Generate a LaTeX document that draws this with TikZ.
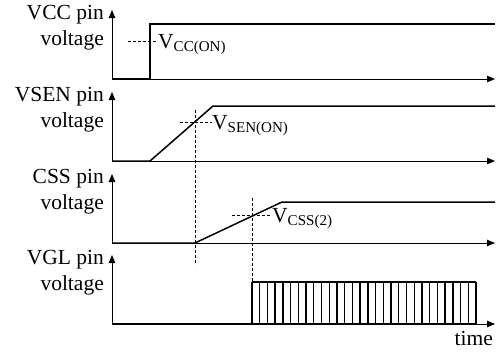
\documentclass[tikz,border=0pt]{standalone}
\usepackage{fontspec}
\setmainfont{Liberation Serif}
\usetikzlibrary{arrows.meta}

\begin{document}
\begin{tikzpicture}[x=1pt,y=-1pt,
  axis/.style={line width=0.9pt,-{Triangle[length=8pt,width=6.5pt]}},
  wave/.style={line width=1.5pt},
  guide/.style={line width=0.7pt,dash pattern=on 3pt off 2pt},
  lbl/.style={font=\fontsize{21.5}{25}\selectfont,inner sep=0pt}]
  \useasboundingbox (0,0) rectangle (497,351);
  % VCC pin
  \node[lbl,anchor=base east] (vccpin) at (104,19.5) {VCC pin};
  \node[lbl,anchor=base east] (vccvolt) at (104,45) {voltage};
  \draw[axis] (112,79) -- (112,10);
  \draw[axis] (112,79) -- (495,79);
  \draw[wave] (112,79) -- (150,79) -- (150,24) -- (495,24);
  \coordinate (vccth) at (128,41);
  \node[lbl,anchor=base west] (vccon) at (158,48) {V\textsubscript{CC(ON)}};
  \draw[guide] (vccth) -- (vccon.west |- vccth);
  % VSEN pin
  \node[lbl,anchor=base east] (senpin) at (104,101.5) {VSEN pin};
  \node[lbl,anchor=base east] (senvolt) at (104,127) {voltage};
  \draw[axis] (112,161) -- (112,92);
  \draw[axis] (112,161) -- (495,161);
  \draw[wave] (112,161) -- (150,161) -- (213,106) -- (495,106);
  \coordinate (senx) at (195,122);
  \node[lbl,anchor=base west] (senon) at (212,129) {V\textsubscript{SEN(ON)}};
  \draw[guide] (180,122) -- (senon.west |- senx);
  \draw[guide] (195,110) -- (195,265);
  % CSS pin
  \node[lbl,anchor=base east] (csspin) at (104,183.5) {CSS pin};
  \node[lbl,anchor=base east] (cssvolt) at (104,209) {voltage};
  \draw[axis] (112,243) -- (112,174);
  \draw[axis] (112,243) -- (495,243);
  \draw[wave] (112,243) -- (195,243) -- (282,202) -- (495,202);
  \coordinate (cssx) at (252,215);
  \node[lbl,anchor=base west] (css2) at (272,222) {V\textsubscript{CSS(2)}};
  \draw[guide] (232,215) -- (css2.west |- cssx);
  \draw[guide] (252,198) -- (252,281);
  % VGL pin
  \node[lbl,anchor=base east] (vglpin) at (104,264.5) {VGL pin};
  \node[lbl,anchor=base east] (vglvolt) at (104,290) {voltage};
  \draw[axis] (112,324) -- (112,255);
  \draw[axis] (112,324) -- (495,324);
  \draw[wave] (112,324) -- (476,324);
  \draw[wave] (252,282) -- (476,282);
  \foreach \k in {0,...,29}
    \draw[line width=1.4pt] ({252+\k*7.724},324) -- ++(0,-42);
  \node[lbl,anchor=base east] (time) at (493,345) {time};
\end{tikzpicture}
\end{document}
